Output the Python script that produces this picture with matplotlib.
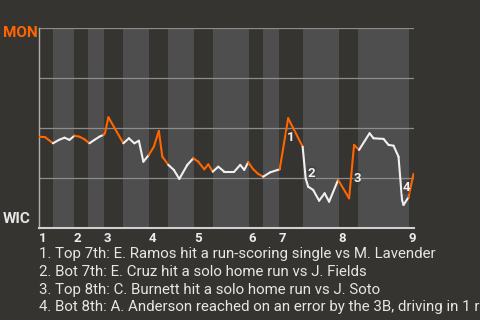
import numpy as np
import matplotlib
matplotlib.use("Agg")
from matplotlib import pyplot as plt
from matplotlib.collections import LineCollection

# Half-inning start positions on the play axis (even index = top, MON batting)
half_starts = [0.0, 2.9, 7.1, 9.9, 13.1, 16.9, 22.1, 25.9, 31.1, 34.9,
               42.1, 44.9, 48.1, 52.9, 60.1, 63.9, 74.1]
inning_labels = ["1", "2", "3", "4", "5", "6", "7", "8", "9"]

# Win probability for MON (%) after each play
play_x = [0.0, 1.3, 2.9, 4.1, 5.2, 6.2, 7.2, 8.2, 9.2, 10.2, 11.2, 12.2, 13.0,
          13.3, 14.0, 17.0, 18.1, 19.2, 20.1, 21.0, 22.1, 23.1, 24.1, 24.8,
          26.0, 27.1, 28.2, 29.8, 31.0, 32.0, 33.2, 34.0, 34.9, 36.0, 37.2,
          39.2, 40.4, 41.2, 42.0, 43.0, 44.0, 45.0, 46.4, 48.3, 50.0, 52.9,
          53.5, 54.0, 55.0, 56.2, 57.3, 58.2, 60.0, 62.2, 63.2, 64.2, 66.3,
          67.1, 69.1, 70.1, 71.1, 72.1, 72.8, 73.1, 74.1, 75.1]
mon_wp = [45.8, 45.6, 42.5, 44.2, 45.3, 44.2, 46.3, 45.8, 44.5, 42.5, 44.2,
          45.8, 46.7, 47.5, 55.5, 42.5, 45.0, 42.5, 43.8, 33.3, 36.7, 40.8,
          48.7, 35.8, 31.7, 29.2, 24.7, 31.7, 35.0, 33.3, 29.5, 32.0, 28.3,
          30.8, 28.3, 28.3, 31.7, 29.2, 33.0, 29.5, 27.2, 25.8, 28.0, 29.5,
          55.0, 40.8, 25.0, 20.8, 19.2, 13.8, 17.5, 13.3, 24.2, 15.0, 41.7,
          39.2, 47.5, 45.0, 44.7, 41.7, 41.3, 35.8, 14.2, 11.7, 15.5, 27.2]

# Key play markers
key_labels = ["1", "2", "3", "4"]
key_x = [50.5, 54.6, 63.8, 73.6]
key_y = [45.2, 27.5, 25.0, 20.5]
key_notes = [
    "1. Top 7th: E. Ramos hit a run-scoring single vs M. Lavender",
    "2. Bot 7th: E. Cruz hit a solo home run vs J. Fields",
    "3. Top 8th: C. Burnett hit a solo home run vs J. Soto",
    "4. Bot 8th: A. Anderson reached on an error by the 3B, driving in 1 run",
]

BG = "#363430"
BAND = "#4e4e4e"
ORANGE = "#ff6600"
WHITE = "#f0f0f0"

plt.rcParams["font.family"] = ["Roboto", "DejaVu Sans"]

fig = plt.figure(figsize=(4.8, 3.2), dpi=100, facecolor=BG)
ax = fig.add_axes([38.5 / 480, (320 - 228.3) / 320, 375 / 480, 200 / 320])
ax.set_facecolor(BG)
ax.set_xlim(0, 75.1)
ax.set_ylim(0, 100)

# bottom-half bands
edges = half_starts + [75.1]
for i in range(1, len(half_starts), 2):
    ax.axvspan(edges[i], edges[i + 1], color=BAND, lw=0, zorder=0)

for g in [25, 50, 75, 100]:
    ax.axhline(g, color="#8c8c8c", lw=0.9, zorder=1)

# line segments coloured by which team is batting
x = np.array(play_x)
y = np.array(mon_wp)
segs = np.stack([np.column_stack([x[:-1], y[:-1]]),
                 np.column_stack([x[1:], y[1:]])], axis=1)
mids = (x[:-1] + x[1:]) / 2
half_idx = np.searchsorted(half_starts, mids, side="right") - 1
colors = [ORANGE if h % 2 == 0 else WHITE for h in half_idx]
lc = LineCollection(segs, colors=colors, linewidths=1.5, zorder=3,
                    capstyle="round", joinstyle="round")
ax.add_collection(lc)

for lab, kx, ky in zip(key_labels, key_x, key_y):
    ax.text(kx, ky, lab, color=WHITE, fontsize=9.5, fontweight="bold",
            ha="center", va="center", zorder=4,
            bbox=dict(facecolor=BG, alpha=0.35, edgecolor="none", pad=0.5))

for s in ["top", "right"]:
    ax.spines[s].set_visible(False)
ax.spines["left"].set_color("#b0b0b0")
ax.spines["left"].set_linewidth(1.0)
ax.spines["bottom"].set_color("#d0d0d0")
ax.spines["bottom"].set_linewidth(1.5)

ax.set_yticks([])
inning_pos = half_starts[::2]
ax.set_xticks(inning_pos)
ax.set_xticklabels(inning_labels, ha="left", color="#ececec",
                   fontsize=9.5, fontweight="bold")
ax.tick_params(axis="x", length=0, pad=3)

fig.text(2.5 / 480, 1 - 33 / 320, "MON", color=ORANGE, fontsize=11,
         fontweight="bold", ha="left", va="center")
fig.text(3 / 480, 1 - 219 / 320, "WIC", color="#e6e6e6", fontsize=11,
         fontweight="bold", ha="left", va="center")

for i, note in enumerate(key_notes):
    fig.text(39 / 480, 1 - (258.3 + i * 17.7) / 320, note, color="#e6e6e6",
             fontsize=10.8, ha="left", va="baseline")

fig.savefig("out.png", dpi=100, facecolor=BG)
